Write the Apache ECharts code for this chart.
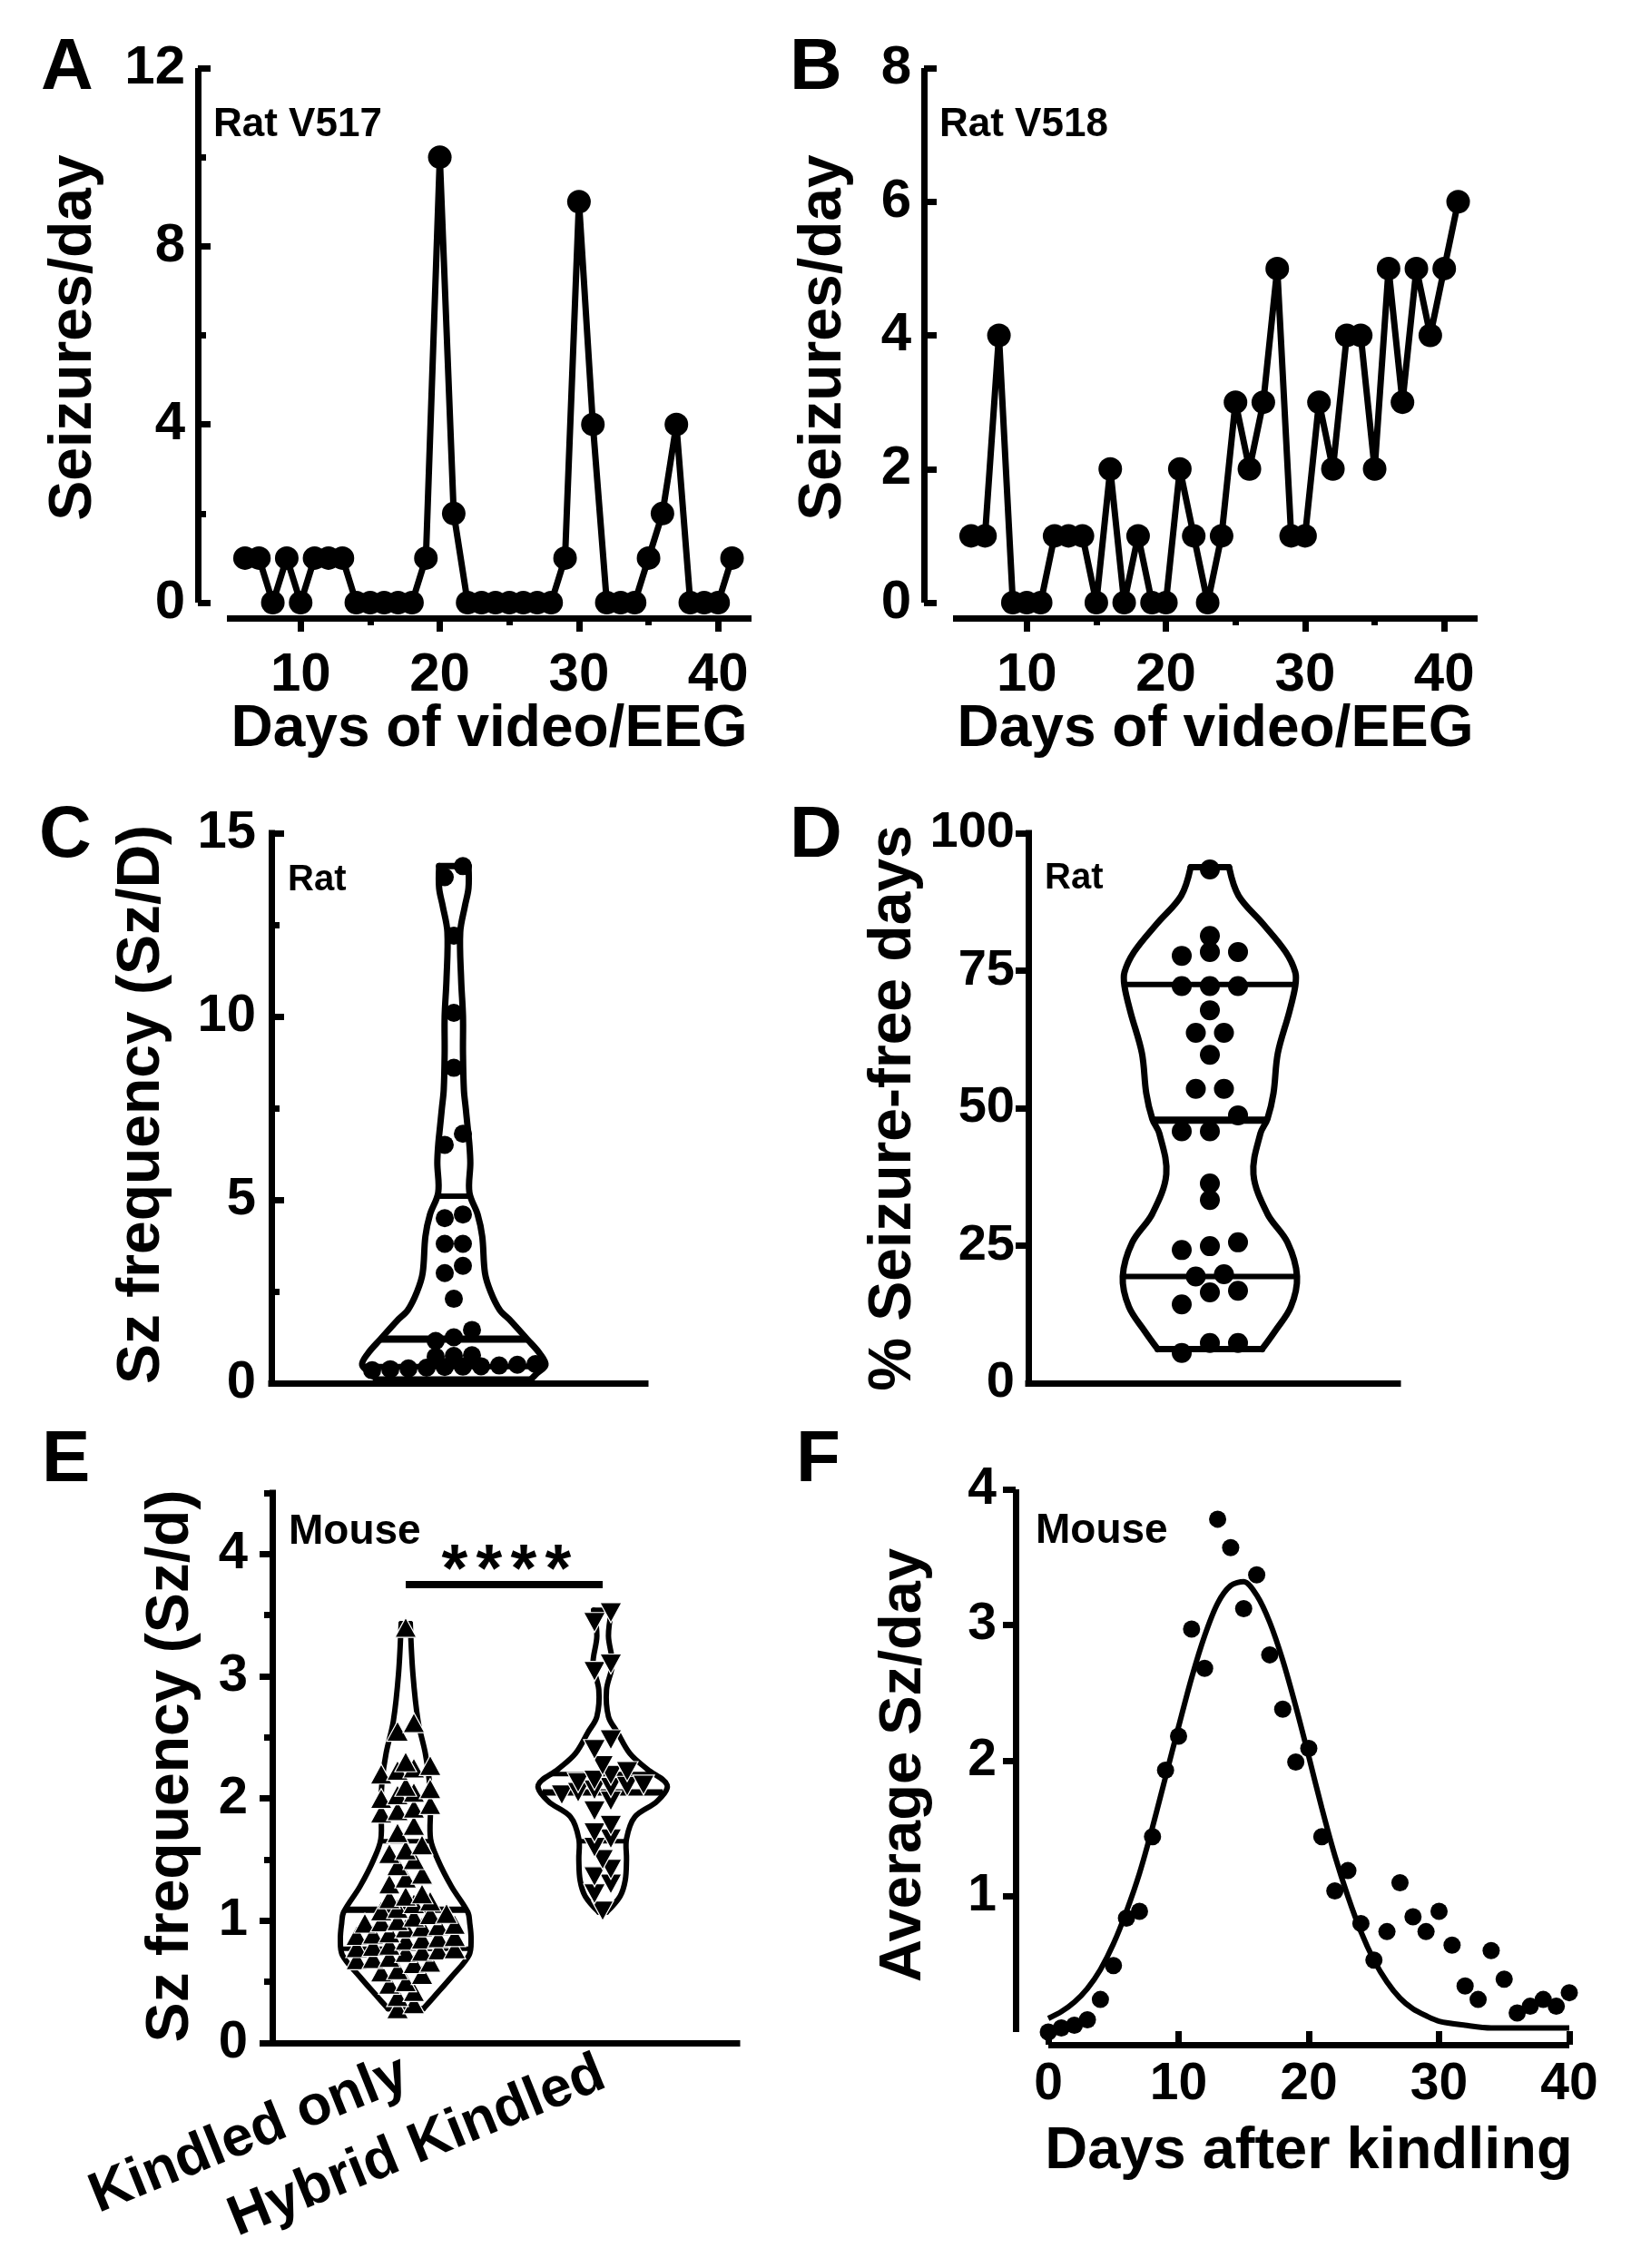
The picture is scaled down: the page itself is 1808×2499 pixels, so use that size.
<!DOCTYPE html>
<html><head><meta charset="utf-8">
<script src="https://cdn.jsdelivr.net/npm/echarts@6/dist/echarts.min.js"></script>
<style>html,body{margin:0;padding:0;background:#fff}#c{width:1808px;height:2499px}</style>
</head><body><div id="c"></div>
<script>
// ================= DATA =================
// Panel A (Rat V517) and B (Rat V518): seizures per day
const daysVideoEEG = [6,7,8,9,10,11,12,13,14,15,16,17,18,19,20,21,22,23,24,25,26,27,28,29,30,31,32,33,34,35,36,37,38,39,40,41];
const seizuresV517 = [1,1,0,1,0,1,1,1,0,0,0,0,0,1,10,2,0,0,0,0,0,0,0,1,9,4,0,0,0,1,2,4,0,0,0,1];
const seizuresV518 = [1,1,4,0,0,0,1,1,1,0,2,0,1,0,0,2,1,0,1,3,2,3,5,1,1,3,2,4,4,2,5,3,5,4,5,6];
const ticksA_y = [0,4,8,12];
const minorA_y = [2,6,10];
const ticksB_y = [0,2,4,6,8];
const ticksDays = [10,20,30,40];
const minorDays = [15,25,35];

// Panel C: rat seizure frequency (Sz/D)
const ratSzFreq = [14.1,13.8,12.2,10.1,8.6,6.8,6.5,4.6,4.5,3.8,3.8,3.2,3.0,2.3,1.45,1.25,1.15,0.76,0.74,0.72,0.52,0.5,0.48,0.46,0.45,0.44,0.42,0.4,0.38,0.35];
const ratSzQuartiles = [0.45,1.2,5.1];
const ratSzViolinLevels = [14.1,13.5,13.0,12.3,11.0,10.0,9.0,8.0,7.5,7.0,6.5,6.0,5.2,4.6,4.0,3.0,2.5,2.0,1.7,1.2,0.8,0.5,0.25,0.1];
const ratSzViolinWidths = [0.16,0.16,0.12,0.07,0.08,0.10,0.10,0.11,0.13,0.15,0.17,0.18,0.17,0.26,0.31,0.34,0.40,0.50,0.62,0.80,0.94,1.0,0.90,0.84];
const ticksC_y = [0,5,10,15];
const minorC_y = [2.5,7.5,12.5];

// Panel D: % seizure-free days
const ratSzFree = [93.4,81.3,78.4,77.7,78.4,72.2,72.2,72.2,67.8,63.7,63.7,59.7,53.5,53.5,48.7,45.8,45.8,36.3,33.3,24.9,24.2,25.6,19.4,19.8,16.8,16.5,14.3,5.5,7.3,7.3];
const ratSzFreeQuartiles = [19.4,47.8,72.5];
const ratSzFreeViolinLevels = [93.8,88.6,83.5,78.4,74.7,72.2,67.4,60,52.7,48,45.4,38,30.8,25.6,19.4,13.9,9.5,6.2];
const ratSzFreeViolinWidths = [0.22,0.33,0.61,0.87,0.98,0.98,0.91,0.78,0.73,0.66,0.58,0.50,0.66,0.89,1.0,0.93,0.75,0.6];
const ticksD_y = [0,25,50,75,100];

// Panel E: mouse seizure frequency (Sz/d)
const mouseGroups = ['Kindled only','Hybrid Kindled'];
const kindledOnly = [3.4,2.62,2.55,2.3,2.27,2.25,2.23,2.2,2.1,2.08,2.05,2.03,2.0,1.95,1.92,1.9,1.88,1.78,1.72,1.62,1.58,1.55,1.5,1.45,1.38,1.35,1.3,1.22,1.2,1.18,1.16,1.14,1.1,1.08,1.06,1.05,1.03,1.0,0.99,0.98,0.97,0.96,0.95,0.94,0.9,0.89,0.88,0.87,0.86,0.85,0.84,0.8,0.79,0.78,0.77,0.76,0.75,0.74,0.7,0.69,0.68,0.66,0.65,0.6,0.58,0.56,0.5,0.48,0.42,0.38,0.32,0.28];
const hybridKindled = [3.52,3.44,3.1,3.04,2.48,2.4,2.27,2.22,2.19,2.15,2.13,2.11,2.1,2.09,2.07,2.05,2.03,1.98,1.9,1.78,1.72,1.67,1.6,1.5,1.42,1.36,1.3,1.22,1.08];
const kindledQuartiles = [0.77,1.09,1.65];
const hybridQuartiles = [1.65,2.05,2.2];
const kindledViolinLevels = [3.43,3.02,2.63,2.37,2.15,1.93,1.67,1.5,1.28,1.07,0.98,0.85,0.72,0.54,0.37,0.28];
const kindledViolinWidths = [0.07,0.11,0.19,0.30,0.36,0.38,0.38,0.49,0.70,0.95,0.98,1.0,0.97,0.70,0.42,0.27];
const hybridViolinLevels = [3.54,3.33,3.1,2.89,2.67,2.54,2.37,2.24,2.11,1.98,1.85,1.67,1.5,1.33,1.2,1.07];
const hybridViolinWidths = [0.14,0.09,0.15,0.06,0.09,0.23,0.42,0.69,1.0,0.85,0.5,0.37,0.37,0.35,0.27,0.06];
const significanceLevel = 3.75;
const ticksE_y = [0,1,2,3,4];
const minorE_y = [0.5,1.5,2.5,3.5,4.5];

// Panel F: average Sz/day after kindling, with fitted curve
const daysAfterKindling = [0,1,2,3,4,5,6,7,8,9,10,11,12,13,14,15,16,17,18,19,20,21,22,23,24,25,26,27,28,29,30,31,32,33,34,35,36,37,38,39,40];
const avgSzPerDay = [0.0,0.03,0.05,0.09,0.24,0.49,0.84,0.89,1.44,1.93,2.18,2.97,2.68,3.78,3.57,3.12,3.37,2.78,2.38,1.99,2.09,1.44,1.04,1.19,0.8,0.53,0.74,1.1,0.85,0.74,0.89,0.64,0.34,0.24,0.6,0.39,0.14,0.19,0.24,0.19,0.29];
const fitDays = [0,1,2,3,4,5,6,7,8,9,10,11,12,13,14,15,16,17,18,19,20,21,22,23,24,25,26,27,28,29,30,32,34,36,38,40];
const fitValues = [0.10,0.15,0.22,0.32,0.46,0.65,0.89,1.17,1.51,1.88,2.25,2.61,2.92,3.16,3.29,3.32,3.22,3.02,2.74,2.40,2.03,1.65,1.30,1.00,0.74,0.53,0.37,0.25,0.17,0.12,0.08,0.05,0.03,0.03,0.03,0.03];
const ticksF_x = [0,10,20,30,40];
const ticksF_y = [1,2,3,4];

// ================= LAYOUT / STYLE =================
const FF = '"Liberation Sans", Arial, Helvetica, sans-serif';
const BLACK = '#000';
const grids = [
  {left:250, top:75, width:578, height:589},   // A
  {left:1050, top:75, width:578, height:589},  // B
  {left:299, top:918, width:412, height:606},  // C
  {left:1133, top:918, width:407, height:606}, // D
  {left:300, top:1645, width:512, height:606}, // E
  {left:1155, top:1641, width:574, height:598} // F
];
const E_GROUP_X = [0, 217];

const xAxes = [], yAxes = [];
function axisCfg(o) {
  return {
    type:'value', gridIndex:o.grid, min:o.min, max:o.max, position:o.pos, offset:o.offset||0,
    splitLine:{show:false}, splitArea:{show:false}, minorTick:{show:false},
    axisLine:{show:o.line!==false, onZero:false, lineStyle:{color:BLACK, width:7, cap:o.cap||'butt'}},
    axisTick:{show:!!(o.ticks&&o.ticks.length), inside:!!o.inside, length:o.tickLen||14,
      customValues:o.ticks||[], lineStyle:{color:BLACK, width:7}},
    axisLabel:o.labels ? {show:true, customValues:o.labels, fontSize:o.fs||58, fontWeight:'bold',
      fontFamily:FF, color:BLACK, margin:o.margin||14, rotate:o.rotate||0,
      formatter:o.formatter||(v=>String(v))} : {show:false},
    axisPointer:{show:false}
  };
}
function addX(o){ xAxes.push(axisCfg(o)); return xAxes.length-1; }
function addY(o){ yAxes.push(axisCfg(o)); return yAxes.length-1; }

// A
const xA = addX({grid:0,min:4.7,max:42.4,pos:'bottom',offset:17,ticks:ticksDays,tickLen:15,labels:ticksDays,fs:60,margin:33});
addX({grid:0,min:4.7,max:42.4,pos:'bottom',offset:17,line:false,ticks:minorDays,tickLen:8});
const yA = addY({grid:0,min:0,max:12,pos:'left',offset:32,ticks:ticksA_y,inside:true,tickLen:14,labels:ticksA_y,fs:60,margin:14});
addY({grid:0,min:0,max:12,pos:'left',offset:32,line:false,ticks:minorA_y,inside:true,tickLen:9});
// B
const xB = addX({grid:1,min:4.7,max:42.4,pos:'bottom',offset:17,ticks:ticksDays,tickLen:15,labels:ticksDays,fs:60,margin:33});
addX({grid:1,min:4.7,max:42.4,pos:'bottom',offset:17,line:false,ticks:minorDays,tickLen:8});
const yB = addY({grid:1,min:0,max:8,pos:'left',offset:32,ticks:ticksB_y,inside:true,tickLen:14,labels:ticksB_y,fs:60,margin:14});
// C
const xC = addX({grid:2,min:-201,max:211,pos:'bottom',cap:'square'});
const yC = addY({grid:2,min:0,max:15,pos:'left',ticks:ticksC_y,inside:true,tickLen:14,labels:ticksC_y,fs:58,margin:17,cap:'square'});
addY({grid:2,min:0,max:15,pos:'left',line:false,ticks:minorC_y,inside:true,tickLen:9});
// D
const xD = addX({grid:3,min:-200,max:207,pos:'bottom',cap:'square'});
const yD = addY({grid:3,min:0,max:100,pos:'left',ticks:ticksD_y.slice(1),tickLen:14,labels:ticksD_y,fs:56,margin:15,cap:'square'});
// E
const xE = addX({grid:4,min:-147,max:365,pos:'bottom',cap:'square',labels:E_GROUP_X,fs:62,margin:32,rotate:22,
  formatter:v=>mouseGroups[E_GROUP_X.indexOf(v)]||''});
const yE = addY({grid:4,min:0,max:4.5,pos:'left',ticks:ticksE_y,tickLen:14,labels:ticksE_y,fs:58,margin:27,cap:'square'});
addY({grid:4,min:0,max:4.5,pos:'left',line:false,ticks:minorE_y,tickLen:9});
// F
const xF = addX({grid:5,min:0,max:40,pos:'bottom',offset:14,ticks:ticksF_x,inside:true,tickLen:15,labels:ticksF_x,fs:57,margin:16});
const yF = addY({grid:5,min:0,max:4,pos:'left',offset:36,ticks:ticksF_y,tickLen:14,labels:ticksF_y,fs:57,margin:21});

// ---------- helpers ----------
function pxPerUnit(gi, ax){ return grids[gi].height / (yAxes[ax].max - yAxes[ax].min); }
// Prism-like column scatter: bin by y (pixel height), spread symmetrically
function swarm(values, binPx, spacingPx, cx, ppu) {
  const s = values.slice().sort((a,b)=>a-b);
  const bin = binPx / ppu, out = [];
  let i = 0;
  while (i < s.length) {
    let j = i;
    while (j < s.length && s[j] - s[i] < bin) j++;
    const n = j - i;
    for (let k = 0; k < n; k++) out.push([cx + (k - (n-1)/2) * spacingPx, s[i+k]]);
    i = j;
  }
  return out;
}
function widthAt(levels, widths, q) {
  for (let i = 0; i < levels.length-1; i++) {
    const a = levels[i], b = levels[i+1];
    if ((q<=a && q>=b) || (q>=a && q<=b)) {
      const t = (q-a)/(b-a); return widths[i] + t*(widths[i+1]-widths[i]);
    }
  }
  return widths[widths.length-1];
}
function violinSeries(xi, yi, violins, lw) {
  return {
    type:'custom', xAxisIndex:xi, yAxisIndex:yi, silent:true, clip:false, z:2,
    data: violins.map((v,k)=>[k]),
    renderItem(params, api) {
      const v = violins[params.dataIndex];
      const L = [], R = [];
      v.levels.forEach((lv, i) => {
        L.push(api.coord([v.cx - v.widths[i]*v.hw, lv]));
        R.push(api.coord([v.cx + v.widths[i]*v.hw, lv]));
      });
      const st = {stroke:BLACK, lineWidth:lw, fill:null, lineJoin:'round', lineCap:'round'};
      const ch = [
        {type:'polyline', shape:{points:L, smooth:0.35}, style:st},
        {type:'polyline', shape:{points:R, smooth:0.35}, style:st},
        {type:'line', shape:{x1:L[0][0],y1:L[0][1],x2:R[0][0],y2:R[0][1]}, style:st},
        {type:'line', shape:{x1:L[L.length-1][0],y1:L[L.length-1][1],x2:R[R.length-1][0],y2:R[R.length-1][1]}, style:st}
      ];
      v.quartiles.forEach((q, qi) => {
        const w = widthAt(v.levels, v.widths, q) * v.hw;
        const p1 = api.coord([v.cx - w, q]), p2 = api.coord([v.cx + w, q]);
        ch.push({type:'line', shape:{x1:p1[0],y1:p1[1],x2:p2[0],y2:p2[1]},
          style:{stroke:BLACK, lineWidth: qi===1 ? lw+1 : lw-1}});
      });
      return {type:'group', children:ch};
    }
  };
}
const DOT = {color:BLACK, opacity:1};

const series = [];
// A, B
function seizureLine(xi, yi, vals) {
  return {type:'line', xAxisIndex:xi, yAxisIndex:yi, data:daysVideoEEG.map((d,i)=>[d, vals[i]]),
    symbol:'circle', symbolSize:26, showAllSymbol:true, clip:false, z:3,
    lineStyle:{color:BLACK, width:7, join:'round'}, itemStyle:DOT};
}
series.push(seizureLine(xA, yA, seizuresV517));
series.push(seizureLine(xB, yB, seizuresV518));
// C
series.push(violinSeries(xC, yC, [{cx:0, hw:101, levels:ratSzViolinLevels, widths:ratSzViolinWidths, quartiles:ratSzQuartiles}], 7));
series.push({type:'scatter', xAxisIndex:xC, yAxisIndex:yC, symbol:'circle', symbolSize:20, clip:false, z:3,
  itemStyle:DOT, data:swarm(ratSzFreq, 13, 20, 0, pxPerUnit(2, yC))});
// D
series.push(violinSeries(xD, yD, [{cx:0, hw:96, levels:ratSzFreeViolinLevels, widths:ratSzFreeViolinWidths, quartiles:ratSzFreeQuartiles}], 7));
series.push({type:'scatter', xAxisIndex:xD, yAxisIndex:yD, symbol:'circle', symbolSize:22, clip:false, z:3,
  itemStyle:DOT, data:swarm(ratSzFree, 18, 31, 0, pxPerUnit(3, yD))});
// E
series.push(violinSeries(xE, yE, [
  {cx:E_GROUP_X[0], hw:72, levels:kindledViolinLevels, widths:kindledViolinWidths, quartiles:kindledQuartiles},
  {cx:E_GROUP_X[1], hw:71, levels:hybridViolinLevels, widths:hybridViolinWidths, quartiles:hybridQuartiles}], 6));
const TRI = {color:BLACK, opacity:1, borderColor:'#fff', borderWidth:1.2};
series.push({type:'scatter', xAxisIndex:xE, yAxisIndex:yE, symbol:'triangle', symbolSize:[24,22], clip:false, z:3,
  itemStyle:TRI, data:swarm(kindledOnly, 13, 18, E_GROUP_X[0], pxPerUnit(4, yE))});
series.push({type:'scatter', xAxisIndex:xE, yAxisIndex:yE, symbol:'triangle', symbolRotate:180, symbolSize:[24,22], clip:false, z:3,
  itemStyle:TRI, data:swarm(hybridKindled, 13, 18, E_GROUP_X[1], pxPerUnit(4, yE))});
series.push({type:'line', xAxisIndex:xE, yAxisIndex:yE, symbol:'none', clip:false, z:3,
  lineStyle:{color:BLACK, width:8}, data:[[E_GROUP_X[0], significanceLevel],[E_GROUP_X[1], significanceLevel]]});
// F
series.push({type:'line', xAxisIndex:xF, yAxisIndex:yF, symbol:'none', smooth:0.3, clip:false, z:2,
  lineStyle:{color:BLACK, width:6}, data:fitDays.map((d,i)=>[d, fitValues[i]])});
series.push({type:'scatter', xAxisIndex:xF, yAxisIndex:yF, symbol:'circle', symbolSize:19, clip:false, z:3,
  itemStyle:DOT, data:daysAfterKindling.map((d,i)=>[d, avgSzPerDay[i]])});

// ---------- texts ----------
function txt(x, y, text, size, o) {
  o = o || {};
  const al = o.align || 'left';
  return {type:'text', x, y, rotation:o.rot||0, silent:true, z:100,
    style:{text, x:0, y:0, fill:BLACK, font:'bold '+size+'px '+FF,
      textAlign:al, align:al, textVerticalAlign:'middle', verticalAlign:'middle'}};
}
const R90 = Math.PI/2;
const graphics = [
  txt(45, 76, 'A', 80), txt(870, 76, 'B', 80), txt(43, 922, 'C', 80),
  txt(870, 922, 'D', 80), txt(46, 1610, 'E', 80), txt(877, 1610, 'F', 80),
  txt(82, 372, 'Seizures/day', 66, {align:'center', rot:R90}),
  txt(908, 372, 'Seizures/day', 66, {align:'center', rot:R90}),
  txt(157, 1217, 'Sz frequency (Sz/D)', 66, {align:'center', rot:R90}),
  txt(985, 1221, '% Seizure-free days', 66, {align:'center', rot:R90}),
  txt(189, 1946, 'Sz frequency (Sz/d)', 66, {align:'center', rot:R90}),
  txt(996, 1945, 'Average Sz/day', 65, {align:'center', rot:R90}),
  txt(539, 804, 'Days of video/EEG', 64, {align:'center'}),
  txt(1339, 804, 'Days of video/EEG', 64, {align:'center'}),
  txt(1442, 2371, 'Days after kindling', 65, {align:'center'}),
  txt(235, 138, 'Rat V517', 44), txt(1035, 138, 'Rat V518', 44),
  txt(317, 970, 'Rat', 40), txt(1151, 968, 'Rat', 40),
  txt(318, 1688, 'Mouse', 46), txt(1141, 1687, 'Mouse', 46)
];
for (let i = 0; i < 4; i++) graphics.push(txt(501 + i*38, 1733, '*', 74, {align:'center'}));

const chart = echarts.init(document.getElementById('c'), null, {renderer:'canvas', width:1808, height:2499});
chart.setOption({
  animation:false, backgroundColor:'#fff',
  grid: grids.map(g => Object.assign({containLabel:false, show:false}, g)),
  xAxis: xAxes, yAxis: yAxes, series, graphic: {elements: graphics}
});
</script></body></html>
